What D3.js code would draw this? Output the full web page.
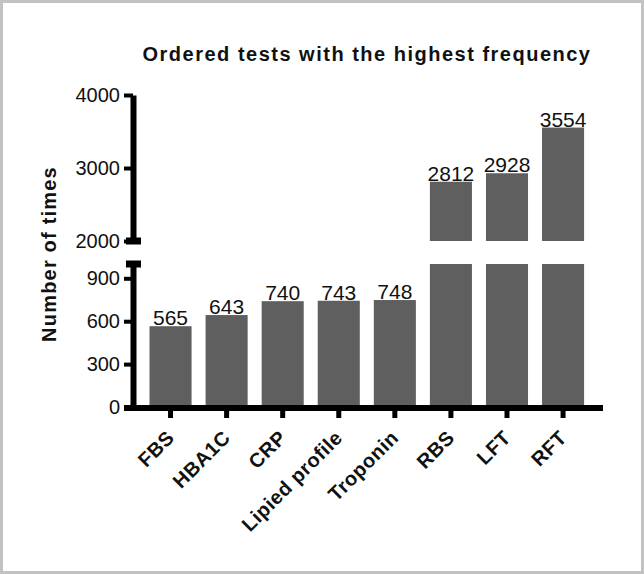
<!DOCTYPE html>
<html>
<head>
<meta charset="utf-8">
<script src="https://cdn.jsdelivr.net/npm/d3@7"></script>
<style>
  html, body { margin: 0; padding: 0; background: #fff; }
  svg { display: block; font-family: "Liberation Sans", Arial, sans-serif; }
</style>
</head>
<body>
<svg id="chart" width="644" height="574"></svg>
<script>
// ---- data ----
const categories = ["FBS", "HBA1C", "CRP", "Lipied profile", "Troponin", "RBS", "LFT", "RFT"];
const values = [565, 643, 740, 743, 748, 2812, 2928, 3554];
const lowTicks = [0, 300, 600, 900];
const highTicks = [2000, 3000, 4000];
const lowDomain = [0, 1000];
const highDomain = [2000, 4000];
const title = "Ordered tests with the highest frequency";
const yTitle = "Number of times";

const svg = d3.select("#chart");
const W = 644, H = 574;

// frame
svg.append("rect").attr("x", 1.5).attr("y", 1.5).attr("width", W - 3).attr("height", H - 3)
  .attr("fill", "#fff").attr("stroke", "#c2c2c2").attr("stroke-width", 3);

const axisX = 133;
const barColor = "#5f5f5f";

const x = d3.scaleBand().domain(categories).range([142.5, 591.1]).paddingInner(0.25).paddingOuter(0.125);
const yLow = d3.scaleLinear().domain(lowDomain).range([407, 264]);
const yHigh = d3.scaleLinear().domain(highDomain).range([241, 95]);

// bars: lower segment
const data = categories.map((c, i) => ({ c, v: values[i] }));
svg.append("g").selectAll("rect").data(data).join("rect")
  .attr("x", d => x(d.c))
  .attr("width", x.bandwidth())
  .attr("y", d => yLow(Math.min(d.v, lowDomain[1])))
  .attr("height", d => yLow(0) - yLow(Math.min(d.v, lowDomain[1])))
  .attr("fill", barColor);

// bars: upper segment
svg.append("g").selectAll("rect").data(data.filter(d => d.v > highDomain[0])).join("rect")
  .attr("x", d => x(d.c))
  .attr("width", x.bandwidth())
  .attr("y", d => yHigh(d.v))
  .attr("height", d => yHigh(highDomain[0]) - yHigh(d.v))
  .attr("fill", barColor);

// value labels
svg.append("g").selectAll("text").data(data).join("text")
  .attr("x", d => x(d.c) + x.bandwidth() / 2)
  .attr("y", d => (d.v > highDomain[0] ? yHigh(d.v) : yLow(d.v)) - 1)
  .attr("text-anchor", "middle")
  .attr("font-size", 21)
  .attr("fill", "#111")
  .text(d => d.v);

// y axes
const fmt = d3.format("d");
function styleAxis(g) {
  g.select(".domain").attr("stroke", "#000").attr("stroke-width", 6);
  g.selectAll(".tick line").attr("stroke", "#000").attr("stroke-width", 4);
  g.selectAll(".tick text").attr("font-size", 20).attr("fill", "#111")
    .attr("font-family", "Liberation Sans, Arial, sans-serif");
}
const gLow = svg.append("g").attr("transform", `translate(${axisX},0)`)
  .call(d3.axisLeft(yLow).tickValues(lowTicks).tickFormat(fmt).tickSize(9).tickSizeOuter(0).tickPadding(4));
styleAxis(gLow);
const gHigh = svg.append("g").attr("transform", `translate(${axisX},0)`)
  .call(d3.axisLeft(yHigh).tickValues(highTicks).tickFormat(fmt).tickSize(9).tickSizeOuter(0).tickPadding(4));
styleAxis(gHigh);

// break caps
[yHigh(highDomain[0]), yLow(lowDomain[1])].forEach(yy => {
  svg.append("rect").attr("x", axisX - 7).attr("y", yy - 3.5)
    .attr("width", 15).attr("height", 7).attr("fill", "#000");
});

// x axis
svg.append("line").attr("x1", 124).attr("x2", 603)
  .attr("y1", 408).attr("y2", 408)
  .attr("stroke", "#000").attr("stroke-width", 6);
const gx = svg.append("g").attr("transform", "translate(0,408)")
  .call(d3.axisBottom(x).tickSize(10).tickSizeOuter(0));
gx.select(".domain").remove();
gx.selectAll(".tick line").attr("stroke", "#000").attr("stroke-width", 5);
gx.selectAll(".tick text").remove();

// category labels
svg.append("g").selectAll("text").data(categories).join("text")
  .attr("transform", d => `translate(${x(d) + x.bandwidth() / 2 + 5},439) rotate(-45)`)
  .attr("text-anchor", "end")
  .attr("font-size", 20)
  .attr("font-weight", "bold")
  .attr("letter-spacing", 0.5)
  .attr("fill", "#111")
  .text(d => d);

// title
svg.append("text")
  .attr("x", 367).attr("y", 61)
  .attr("text-anchor", "middle")
  .attr("font-size", 20)
  .attr("font-weight", "bold")
  .attr("letter-spacing", 1.5)
  .attr("fill", "#111")
  .text(title);

// y title
svg.append("text")
  .attr("transform", "translate(56,254) rotate(-90)")
  .attr("text-anchor", "middle")
  .attr("font-size", 20)
  .attr("font-weight", "bold")
  .attr("letter-spacing", 1.2)
  .attr("fill", "#111")
  .text(yTitle);
</script>
</body>
</html>
